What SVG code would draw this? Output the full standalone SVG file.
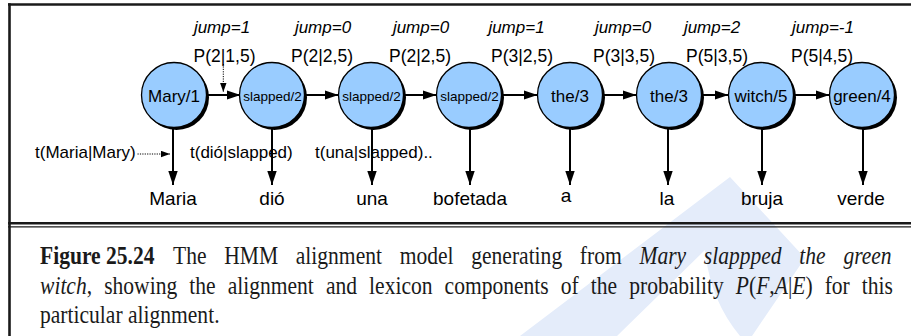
<svg xmlns="http://www.w3.org/2000/svg" width="911" height="336" viewBox="0 0 911 336">
<style>
.sh{fill:#000}
.nd{fill:#99CCFF;stroke:#000;stroke-width:1.3}
.lb{font-family:"Liberation Sans",Arial,sans-serif;font-size:17px;fill:#000;text-anchor:middle}
.sm{font-size:13.5px}
.jp{font-family:"Liberation Sans",Arial,sans-serif;font-size:17px;font-style:italic;fill:#000;text-anchor:middle}
.pp{font-family:"Liberation Sans",Arial,sans-serif;font-size:17.5px;fill:#000;text-anchor:middle}
.tl{font-family:"Liberation Sans",Arial,sans-serif;font-size:17px;fill:#000}
.wd{font-family:"Liberation Sans",Arial,sans-serif;font-size:19px;fill:#000;text-anchor:middle}
.cap{font-family:"Liberation Serif","Times New Roman",serif;font-size:24.5px;fill:#1a1a1a}
.ar{stroke:#000;stroke-width:2;fill:none;marker-end:url(#ah)}
.dt{stroke:#000;stroke-width:1;stroke-dasharray:1.2 1.2;fill:none;marker-end:url(#ahs)}
</style>
<defs>
<marker id="ah" markerUnits="userSpaceOnUse" markerWidth="14" markerHeight="10" refX="14" refY="4.7" orient="auto"><path d="M0,0 L14,4.7 L0,9.4 z" fill="#000"/></marker>
<marker id="ahs" markerUnits="userSpaceOnUse" markerWidth="9" markerHeight="7" refX="9" refY="3.2" orient="auto"><path d="M0,0 L9,3.2 L0,6.4 z" fill="#000"/></marker>
</defs>
<rect width="911" height="336" fill="#fff"/>
<path d="M730,177 L805,258 L752,336 L520,336 Z M705,250 L617,336 L740,336 Q710,300 705,250 Z" fill="#E4ECFA" fill-rule="evenodd"/>
<g id="frame" stroke="#1a1a1a" fill="none">
<line x1="8" y1="4.5" x2="911" y2="4.5" stroke-width="2.6"/>
<line x1="9.5" y1="3.2" x2="9.5" y2="336" stroke-width="2.6"/>
<line x1="8" y1="223.3" x2="911" y2="223.3" stroke-width="2.6"/>
<line x1="8" y1="226.9" x2="911" y2="226.9" stroke-width="1.3"/>
</g>
<g id="labels-top">
<text class="jp" x="222" y="33">jump=1</text><text class="pp" x="224.5" y="61.5">P(2|1,5)</text>
<text class="jp" x="323" y="33">jump=0</text><text class="pp" x="322" y="61.5">P(2|2,5)</text>
<text class="jp" x="421" y="33">jump=0</text><text class="pp" x="420" y="61.5">P(2|2,5)</text>
<text class="jp" x="516.5" y="33">jump=1</text><text class="pp" x="522" y="61.5">P(3|2,5)</text>
<text class="jp" x="623" y="33">jump=0</text><text class="pp" x="624" y="61.5">P(3|3,5)</text>
<text class="jp" x="712" y="33">jump=2</text><text class="pp" x="717" y="61.5">P(5|3,5)</text>
<text class="jp" x="823" y="33">jump=-1</text><text class="pp" x="822" y="61.5">P(5|4,5)</text>
</g>
<g id="labels-t">
<text class="tl" x="35" y="158">t(Maria|Mary)</text>
<text class="tl" x="190" y="158">t(dió|slapped)</text>
<text class="tl" x="315" y="158">t(una|slapped)..</text>
</g>
<g id="connectors">
<line class="ar" x1="207" y1="95" x2="240.5" y2="95"/>
<line class="ar" x1="305" y1="95" x2="338.5" y2="95"/>
<line class="ar" x1="404" y1="95" x2="436.5" y2="95"/>
<line class="ar" x1="502" y1="95" x2="537.5" y2="95"/>
<line class="ar" x1="603" y1="95" x2="636.5" y2="95"/>
<line class="ar" x1="702" y1="95" x2="728.5" y2="95"/>
<line class="ar" x1="794" y1="95" x2="829.5" y2="95"/>
<line class="ar" x1="173" y1="128" x2="173" y2="185"/>
<line class="ar" x1="272" y1="128" x2="272" y2="185"/>
<line class="ar" x1="372" y1="128" x2="372" y2="185"/>
<line class="ar" x1="470" y1="128" x2="470" y2="185"/>
<line class="ar" x1="570" y1="128" x2="570" y2="185"/>
<line class="ar" x1="668" y1="128" x2="668" y2="185"/>
<line class="ar" x1="762" y1="128" x2="762" y2="185"/>
<line class="ar" x1="863" y1="128" x2="863" y2="185"/>
<line class="dt" x1="223.3" y1="64" x2="223.3" y2="92"/>
<line class="dt" x1="137.5" y1="154" x2="170" y2="154"/>
</g>
<g id="n1"><circle class="sh" cx="176.5" cy="97.5" r="32.5"/><circle class="nd" cx="174" cy="95" r="32.5"/><text class="lb" x="174" y="101.5">Mary/1</text></g>
<g id="n2"><circle class="sh" cx="274.5" cy="97.5" r="32.5"/><circle class="nd" cx="272" cy="95" r="32.5"/><text class="lb sm" x="272.5" y="100.5">slapped/2</text></g>
<g id="n3"><circle class="sh" cx="373.5" cy="97.5" r="32.5"/><circle class="nd" cx="371" cy="95" r="32.5"/><text class="lb sm" x="371.5" y="100.5">slapped/2</text></g>
<g id="n4"><circle class="sh" cx="471.5" cy="97.5" r="32.5"/><circle class="nd" cx="469" cy="95" r="32.5"/><text class="lb sm" x="469.5" y="100.5">slapped/2</text></g>
<g id="n5"><circle class="sh" cx="572.5" cy="97.5" r="32.5"/><circle class="nd" cx="570" cy="95" r="32.5"/><text class="lb" x="570" y="101.5">the/3</text></g>
<g id="n6"><circle class="sh" cx="671.5" cy="97.5" r="32.5"/><circle class="nd" cx="669" cy="95" r="32.5"/><text class="lb" x="669" y="101.5">the/3</text></g>
<g id="n7"><circle class="sh" cx="763.5" cy="97.5" r="32.5"/><circle class="nd" cx="761" cy="95" r="32.5"/><text class="lb" x="761" y="101.5">witch/5</text></g>
<g id="n8"><circle class="sh" cx="864.5" cy="97.5" r="32.5"/><circle class="nd" cx="862" cy="95" r="32.5"/><text class="lb" x="862" y="101.5">green/4</text></g>
<g id="words">
<text class="wd" x="173" y="204.5">Maria</text>
<text class="wd" x="272" y="204.5">dió</text>
<text class="wd" x="372" y="204.5">una</text>
<text class="wd" x="470" y="204.5">bofetada</text>
<text class="wd" x="566" y="202">a</text>
<text class="wd" x="667" y="204.5">la</text>
<text class="wd" x="762" y="204.5">bruja</text>
<text class="wd" x="861" y="204.5">verde</text>
</g>
<g id="caption" transform="scale(0.88,1)">
<text class="cap" x="45.5" y="264" font-weight="bold">Figure 25.24</text>
<text class="cap" x="196.6" y="264" word-spacing="14">The HMM alignment model generating from <tspan font-style="italic">Mary slappped the green</tspan></text>
<text class="cap" x="45.5" y="294" word-spacing="7.6"><tspan font-style="italic">witch</tspan>, showing the alignment and lexicon components of the probability <tspan font-style="italic">P</tspan>(<tspan font-style="italic">F</tspan>,<tspan font-style="italic">A</tspan>|<tspan font-style="italic">E</tspan>) for this</text>
<text class="cap" x="45.5" y="323">particular alignment.</text>
</g>
</svg>
